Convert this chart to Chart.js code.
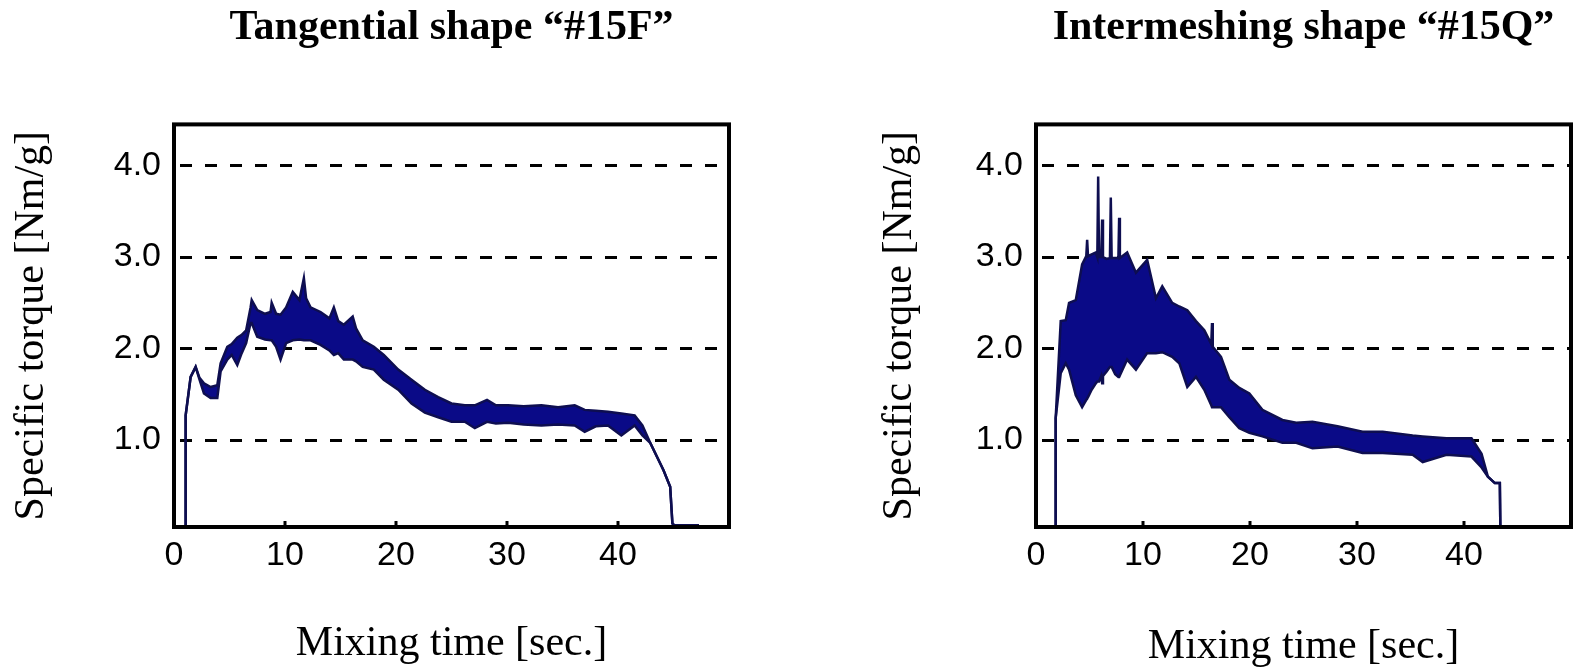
<!DOCTYPE html>
<html>
<head>
<meta charset="utf-8">
<title>Specific torque vs mixing time</title>
<script src="https://cdn.jsdelivr.net/npm/chart.js@4"></script>
<style>
    html, body { margin: 0; padding: 0; background: #fff; overflow: hidden; }
    canvas { position: absolute; top: 0; }
    #leftChart { left: 0; }
    #rightChart { left: 789px; }
</style>
</head>
<body>
<canvas id="leftChart" width="789" height="668"></canvas>
<canvas id="rightChart" width="789" height="668"></canvas>
<script>
// Tick positions shared by both panels
const xTicks = [0, 10, 20, 30, 40];
const yTicks = [1, 2, 3, 4];

// Tangential shape "#15F" - upper / lower envelope of the torque trace
const timeF = [1.00, 1.05, 1.50, 1.95, 2.30, 2.70, 3.30, 3.90, 4.20, 4.80,
    5.20, 5.70, 6.10, 6.50, 6.90, 7.00, 7.50, 8.20, 8.70, 8.80,
    9.20, 9.60, 10.10, 10.70, 11.30, 11.70, 11.90, 12.30, 13.20, 14.00,
    14.40, 14.80, 15.30, 16.10, 16.40, 17.00, 18.00, 18.90, 20.20, 21.40,
    22.60, 23.80, 25.00, 26.20, 27.10, 28.20, 29.00, 30.10, 31.50, 33.10,
    34.60, 36.10, 37.00, 38.00, 39.10, 40.30, 41.50, 42.20, 42.90, 43.50,
    44.10, 44.70, 44.90, 45.10, 47.30];
const upperF = [0, 1.27, 1.69, 1.80, 1.68, 1.62, 1.58, 1.60, 1.84, 2.02,
    2.05, 2.12, 2.15, 2.20, 2.45, 2.53, 2.42, 2.38, 2.40, 2.50,
    2.38, 2.37, 2.45, 2.62, 2.53, 2.77, 2.55, 2.45, 2.40, 2.33,
    2.45, 2.30, 2.26, 2.35, 2.22, 2.09, 2.02, 1.93, 1.77, 1.66,
    1.55, 1.47, 1.40, 1.38, 1.38, 1.44, 1.38, 1.38, 1.37, 1.38,
    1.36, 1.38, 1.33, 1.32, 1.31, 1.29, 1.27, 1.16, 0.97, 0.82,
    0.67, 0.49, 0.09, 0.07, 0.07];
const lowerF = [0, 1.27, 1.69, 1.80, 1.66, 1.51, 1.46, 1.46, 1.75, 1.88,
    1.93, 1.82, 1.95, 2.06, 2.28, 2.28, 2.13, 2.10, 2.09, 2.09,
    2.02, 1.88, 2.06, 2.09, 2.10, 2.09, 2.09, 2.09, 2.04, 1.98,
    1.93, 1.95, 1.88, 1.88, 1.86, 1.80, 1.77, 1.66, 1.55, 1.40,
    1.30, 1.25, 1.20, 1.20, 1.13, 1.20, 1.18, 1.19, 1.17, 1.16,
    1.17, 1.16, 1.09, 1.15, 1.16, 1.05, 1.16, 1.05, 0.97, 0.82,
    0.67, 0.49, 0.09, 0.04, 0.04];

// Intermeshing shape "#15Q"
const timeQ = [1.80, 1.84, 2.31, 2.78, 3.09, 3.72, 4.31, 4.70, 4.78, 4.86,
    5.20, 5.59, 5.73, 5.81, 5.89, 6.10, 6.18, 6.26, 6.60, 6.91,
    6.99, 7.07, 7.40, 7.70, 7.77, 7.84, 8.52, 9.34, 10.39, 11.21,
    11.80, 12.73, 13.39, 14.14, 14.95, 15.73, 16.38, 16.45, 16.52, 17.29,
    18.07, 19.00, 19.94, 21.16, 23.03, 24.32, 25.84, 28.18, 30.52, 32.40,
    35.20, 36.14, 38.36, 40.70, 41.64, 42.23, 42.88, 43.35, 43.40];
const upperQ = [0, 1.24, 2.30, 2.31, 2.50, 2.53, 2.92, 3.01, 3.19, 3.01,
    3.03, 3.05, 3.00, 3.88, 3.00, 3.00, 3.41, 3.00, 2.98, 2.99,
    3.65, 2.99, 2.99, 2.99, 3.43, 2.99, 3.05, 2.83, 2.97, 2.55,
    2.68, 2.50, 2.46, 2.42, 2.30, 2.20, 2.05, 2.28, 2.02, 1.91,
    1.66, 1.57, 1.51, 1.33, 1.22, 1.19, 1.20, 1.15, 1.09, 1.09,
    1.05, 1.04, 1.02, 1.02, 0.85, 0.60, 0.53, 0.53, 0];
const lowerQ = [0, 1.24, 1.73, 1.84, 1.77, 1.49, 1.36, 1.44, 1.45, 1.47,
    1.55, 1.62, 1.64, 1.64, 1.64, 1.70, 1.62, 1.70, 1.75, 1.80,
    1.80, 1.80, 1.72, 1.69, 1.69, 1.69, 1.88, 1.77, 1.95, 1.95,
    1.96, 1.91, 1.84, 1.58, 1.69, 1.55, 1.38, 1.36, 1.36, 1.36,
    1.25, 1.13, 1.08, 1.04, 0.97, 0.97, 0.91, 0.93, 0.86, 0.86,
    0.84, 0.76, 0.84, 0.82, 0.70, 0.60, 0.53, 0.53, 0];

const serif = "'Liberation Serif', 'Times New Roman', serif";
const sans = "'Liberation Sans', Arial, sans-serif";

// Box round the plot area plus small inward tick marks on the time axis
const framePlugin = {
    id: "frame",
    afterDatasetsDraw(chart) {
        const { ctx, chartArea: a, scales } = chart;
        ctx.save();
        ctx.strokeStyle = "#000";
        ctx.lineWidth = 3;
        xTicks.slice(1).forEach((t) => {
            const px = scales.x.getPixelForValue(t);
            ctx.beginPath();
            ctx.moveTo(px, a.bottom);
            ctx.lineTo(px, a.bottom - 6);
            ctx.stroke();
        });
        ctx.lineWidth = 4;
        ctx.strokeRect(a.left, a.top, a.right - a.left, a.bottom - a.top);
        ctx.restore();
    }
};

function makeChart(id, title, time, upper, lower, box) {
    const pts = (vals) => time.map((t, i) => ({ x: t, y: vals[i] }));
    return new Chart(document.getElementById(id), {
        type: "line",
        data: {
            datasets: [
                {
                    data: pts(lower),
                    borderColor: "rgb(14, 14, 80)",
                    borderWidth: 2.5,
                    pointRadius: 0,
                    fill: false
                },
                {
                    data: pts(upper),
                    borderColor: "rgb(14, 14, 80)",
                    backgroundColor: "rgb(10, 10, 135)",
                    borderWidth: 2.5,
                    pointRadius: 0,
                    fill: "-1"
                }
            ]
        },
        options: {
            responsive: false,
            animation: false,
            layout: { padding: { left: 0, right: box.padRight, top: 0, bottom: 0 } },
            plugins: {
                legend: { display: false },
                tooltip: { enabled: false },
                title: {
                    display: true,
                    text: title,
                    fullSize: false,
                    color: "#000",
                    font: { family: serif, size: 42, weight: "bold", lineHeight: 1.2 },
                    padding: { top: 3, bottom: 71 }
                }
            },
            scales: {
                x: {
                    type: "linear",
                    min: 0,
                    max: 50,
                    afterBuildTicks: (s) => { s.ticks = xTicks.map((v) => ({ value: v })); },
                    afterFit: (s) => { s.height = 141; },
                    grid: { display: false, drawTicks: false },
                    border: { display: false },
                    ticks: {
                        color: "#000",
                        padding: 8,
                        maxRotation: 0,
                        font: { family: sans, size: 34 }
                    },
                    title: {
                        display: true,
                        text: "Mixing time [sec.]",
                        color: "#000",
                        font: { family: serif, size: 42, lineHeight: 1 },
                        padding: { top: 0, bottom: box.xTitlePad }
                    }
                },
                y: {
                    min: 0.05,
                    max: 4.45,
                    afterBuildTicks: (s) => { s.ticks = yTicks.map((v) => ({ value: v })); },
                    afterFit: (s) => { s.width = box.yWidth; },
                    grid: { color: "#000", lineWidth: 3, drawTicks: false },
                    border: { display: false, dash: [12, 13], dashOffset: -6 },
                    ticks: {
                        color: "#000",
                        padding: 13,
                        font: { family: sans, size: 34 },
                        callback: (v) => v.toFixed(1)
                    },
                    title: {
                        display: true,
                        text: "Specific torque [Nm/g]",
                        color: "#000",
                        font: { family: serif, size: 42, lineHeight: 1.2 },
                        padding: { top: box.yTitlePad, bottom: 0 }
                    }
                }
            }
        },
        plugins: [framePlugin]
    });
}

makeChart("leftChart", "Tangential shape \u201c#15F\u201d", timeF, upperF, lowerF,
    { padRight: 60, yWidth: 174, yTitlePad: 7, xTitlePad: 3 });
makeChart("rightChart", "Intermeshing shape \u201c#15Q\u201d", timeQ, upperQ, lowerQ,
    { padRight: 7, yWidth: 247, yTitlePad: 86, xTitlePad: 0 });
</script>
</body>
</html>
